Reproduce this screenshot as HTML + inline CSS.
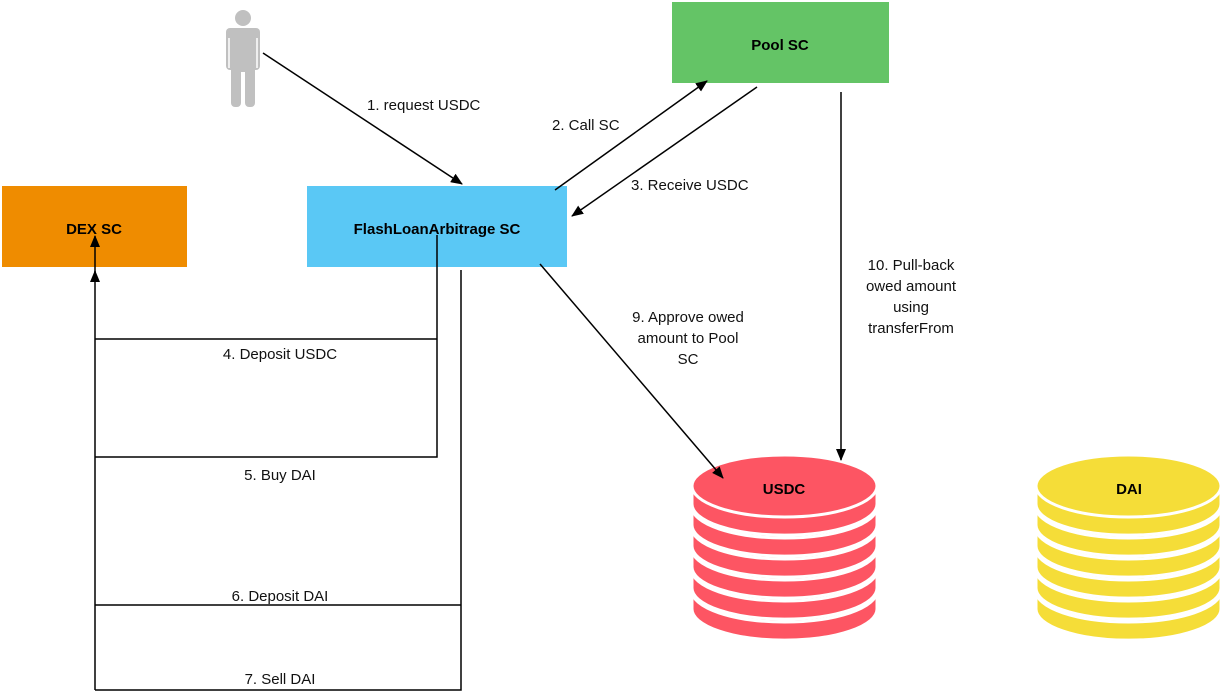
<!DOCTYPE html>
<html><head><meta charset="utf-8"><style>
html,body{margin:0;padding:0;background:#fff;}
svg{display:block;}
text{font-family:"Liberation Sans",Helvetica,Arial,sans-serif;}
</style></head><body>
<svg width="1224" height="696" viewBox="0 0 1224 696" xmlns="http://www.w3.org/2000/svg">
<defs>
<marker id="a" markerWidth="12" markerHeight="10" refX="11" refY="5" orient="auto" markerUnits="userSpaceOnUse">
<path d="M0,0 L12,5 L0,10 Z" fill="#000"/></marker>
</defs>
<!-- person -->
<g fill="#c0c0c0">
<circle cx="243" cy="18" r="8"/>
<rect x="226" y="28" width="34" height="42" rx="4"/>
<rect x="231" y="55" width="10" height="52" rx="4"/>
<rect x="245" y="55" width="10" height="52" rx="4"/>
</g>
<rect x="231" y="32" width="24" height="40" fill="#c0c0c0"/>
<line x1="229" y1="38" x2="229" y2="68" stroke="#fff" stroke-width="1.5"/>
<line x1="257" y1="38" x2="257" y2="68" stroke="#fff" stroke-width="1.5"/>
<!-- boxes -->
<rect x="672" y="2" width="217" height="81" fill="#64c466"/>
<text x="780" y="50" text-anchor="middle" font-size="15" font-weight="bold">Pool SC</text>
<rect x="307" y="186" width="260" height="81" fill="#5ac8f5"/>
<text x="437" y="234" text-anchor="middle" font-size="15" font-weight="bold">FlashLoanArbitrage SC</text>
<rect x="2" y="186" width="185" height="81" fill="#ef8c00"/>
<text x="94" y="234" text-anchor="middle" font-size="15" font-weight="bold">DEX SC</text>
<!-- coins -->
<g id="usdc" fill="#fd5563" stroke="#fff" stroke-width="3">
<path d="M692,591 v18 a92,31 0 0 0 185,0 v-18 z"/><ellipse cx="784.5" cy="591" rx="92.5" ry="31"/>
<path d="M692,570 v18 a92,31 0 0 0 185,0 v-18 z"/><ellipse cx="784.5" cy="570" rx="92.5" ry="31"/>
<path d="M692,549 v18 a92,31 0 0 0 185,0 v-18 z"/><ellipse cx="784.5" cy="549" rx="92.5" ry="31"/>
<path d="M692,528 v18 a92,31 0 0 0 185,0 v-18 z"/><ellipse cx="784.5" cy="528" rx="92.5" ry="31"/>
<path d="M692,507 v18 a92,31 0 0 0 185,0 v-18 z"/><ellipse cx="784.5" cy="507" rx="92.5" ry="31"/>
<path d="M692,486 v18 a92,31 0 0 0 185,0 v-18 z"/><ellipse cx="784.5" cy="486" rx="92.5" ry="31"/>
</g>
<text x="784" y="494" text-anchor="middle" font-size="15" font-weight="bold">USDC</text>
<g fill="#f5dd38" stroke="#fff" stroke-width="3">
<path d="M1036,591 v18 a92,31 0 0 0 185,0 v-18 z"/><ellipse cx="1128.5" cy="591" rx="92.5" ry="31"/>
<path d="M1036,570 v18 a92,31 0 0 0 185,0 v-18 z"/><ellipse cx="1128.5" cy="570" rx="92.5" ry="31"/>
<path d="M1036,549 v18 a92,31 0 0 0 185,0 v-18 z"/><ellipse cx="1128.5" cy="549" rx="92.5" ry="31"/>
<path d="M1036,528 v18 a92,31 0 0 0 185,0 v-18 z"/><ellipse cx="1128.5" cy="528" rx="92.5" ry="31"/>
<path d="M1036,507 v18 a92,31 0 0 0 185,0 v-18 z"/><ellipse cx="1128.5" cy="507" rx="92.5" ry="31"/>
<path d="M1036,486 v18 a92,31 0 0 0 185,0 v-18 z"/><ellipse cx="1128.5" cy="486" rx="92.5" ry="31"/>
</g>
<text x="1129" y="494" text-anchor="middle" font-size="15" font-weight="bold">DAI</text>
<!-- connectors -->
<g stroke="#000" stroke-width="1.5" fill="none">
<line x1="263" y1="53" x2="462" y2="184" marker-end="url(#a)"/>
<line x1="555" y1="190" x2="707" y2="81" marker-end="url(#a)"/>
<line x1="757" y1="87" x2="572" y2="216" marker-end="url(#a)"/>
<line x1="540" y1="264" x2="723" y2="478" marker-end="url(#a)"/>
<line x1="841" y1="92" x2="841" y2="460" marker-end="url(#a)"/>
<polyline points="437,235 437,457 95,457"/>
<line x1="95" y1="339" x2="437" y2="339"/>
<polyline points="461,270 461,690 95,690"/>
<line x1="95" y1="605" x2="461" y2="605"/>
<line x1="95" y1="690" x2="95" y2="271" marker-end="url(#a)"/>
<line x1="95" y1="280" x2="95" y2="236" marker-end="url(#a)"/>
</g>
<g font-size="15" fill="#111">
<text x="367" y="110">1. request USDC</text>
<text x="552" y="130">2. Call SC</text>
<text x="631" y="190">3. Receive USDC</text>
<text x="688" y="322" text-anchor="middle">9. Approve owed</text>
<text x="688" y="343" text-anchor="middle">amount to Pool</text>
<text x="688" y="364" text-anchor="middle">SC</text>
<text x="911" y="270" text-anchor="middle">10. Pull-back</text>
<text x="911" y="291" text-anchor="middle">owed amount</text>
<text x="911" y="312" text-anchor="middle">using</text>
<text x="911" y="333" text-anchor="middle">transferFrom</text>
<text x="280" y="359" text-anchor="middle">4. Deposit USDC</text>
<text x="280" y="480" text-anchor="middle">5. Buy DAI</text>
<text x="280" y="601" text-anchor="middle">6. Deposit DAI</text>
<text x="280" y="684" text-anchor="middle">7. Sell DAI</text>
</g>
</svg>
</body></html>
